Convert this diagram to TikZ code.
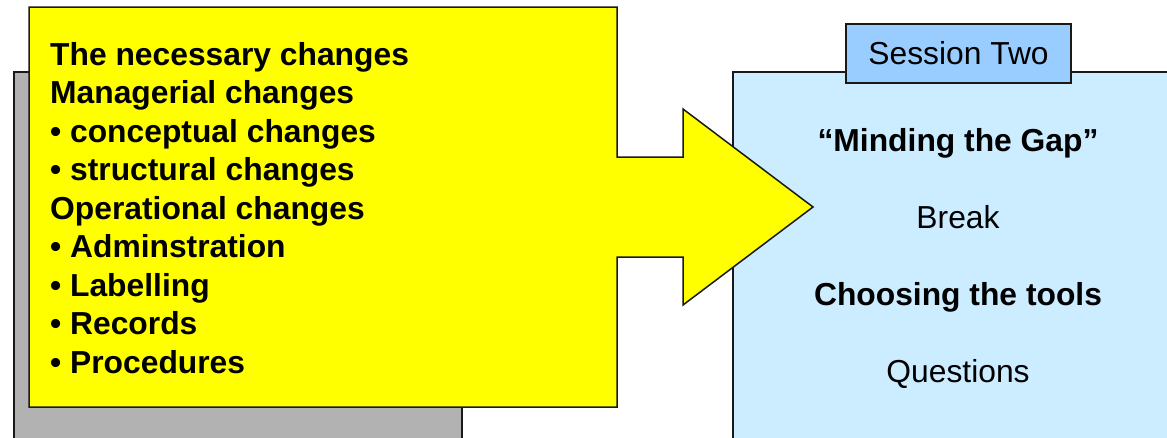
\documentclass[tikz,border=0pt]{standalone}
\usepackage{fontspec}
\setmainfont{Liberation Sans}
\usetikzlibrary{positioning}
\definecolor{calloutyellow}{HTML}{FFFF00}
\definecolor{pastgrey}{HTML}{B2B2B2}
\definecolor{sessionblue}{HTML}{CCECFF}
\definecolor{tabblue}{HTML}{99CCFF}
\begin{document}
\begin{tikzpicture}[
  x=1pt, y=-1pt,
  panel/.style={draw=black!90, line width=1.5pt},
  item/.style={font=\fontsize{31.8}{38.5}\selectfont\bfseries, inner sep=0pt, anchor=base west},
  agenda/.style={font=\fontsize{31.8}{38.5}\selectfont, inner sep=0pt, anchor=base}]
\useasboundingbox (0,0) rectangle (1167,437);
\clip (0,0) rectangle (1167,437);
% ---- earlier session, behind
\node[panel, fill=pastgrey, anchor=north west, minimum width=448pt, minimum height=380pt] (past) at (13,71) {};
% ---- session two
\node[panel, fill=sessionblue, anchor=north west, minimum width=450pt, minimum height=380pt] (session) at (732,71) {};
\node[panel, fill=tabblue, minimum width=225pt, minimum height=59pt, inner sep=0pt,
  font=\fontsize{31.8}{38.5}\selectfont] (tab) at (958.5,53.5) {Session Two};
\node[agenda, font=\fontsize{31.8}{38.5}\selectfont\bfseries] (gap) at (958,151) {“Minding the Gap”};
\node[agenda] (break) at (958,228) {Break};
\node[agenda, font=\fontsize{31.8}{38.5}\selectfont\bfseries] (tools) at (958,305) {Choosing the tools};
\node[agenda] (questions) at (958,382) {Questions};
% ---- callout with arrow
\draw[panel, fill=calloutyellow, line join=miter]
  (29,7) -- (617,7) -- (617,157) -- (683,157) -- (683,109) -- (813,207)
  -- (683,305) -- (683,257) -- (617,257) -- (617,407) -- (29,407) -- cycle;
\foreach \txt [count=\i] in {The necessary changes, Managerial changes,
    • conceptual changes, • structural changes, Operational changes,
    • Adminstration, • Labelling, • Records, • Procedures}
  \node[item] (line\i) at (50,{65+38.5*(\i-1)}) {\txt};
\end{tikzpicture}
\end{document}
